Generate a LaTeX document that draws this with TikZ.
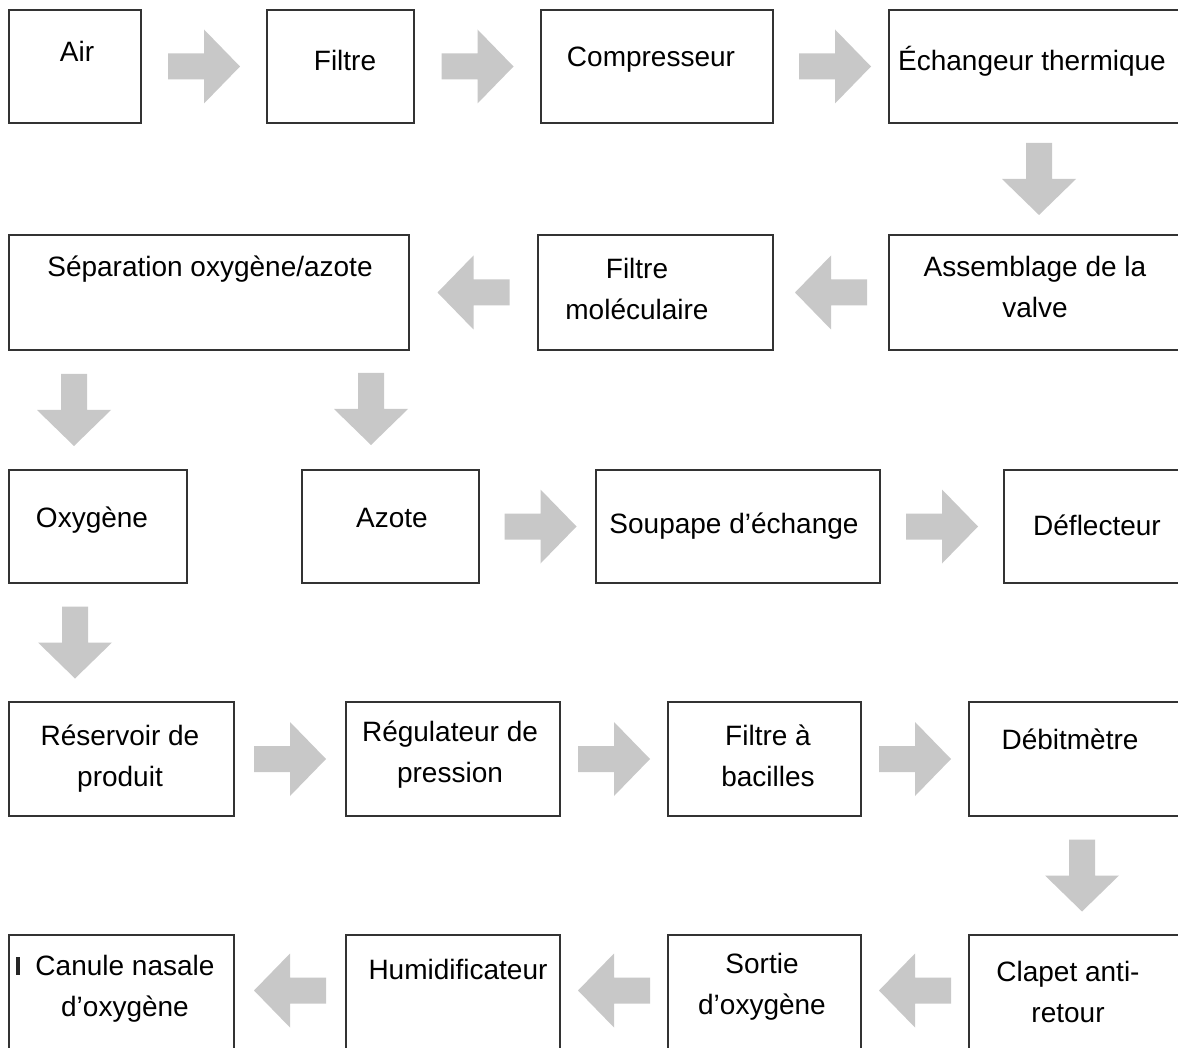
\documentclass[tikz,border=0pt]{standalone}
\usepackage{fontspec}
\setmainfont{Liberation Sans}
\usetikzlibrary{fit,calc}
\definecolor{boxline}{HTML}{333333}
\definecolor{arrowgray}{HTML}{C8C8C8}
\tikzset{
  stepbox/.style={draw=boxline, line width=1.5pt, inner sep=0pt, fill=white},
  lbl/.style={font=\fontsize{21}{30.75}\selectfont, align=center, anchor=base, inner sep=0pt},
  blk/.style={fill=arrowgray}
}
\newcommand\blkarrow[2]{\fill[blk, shift={#2}, rotate=#1] (-36,-13) -- (0,-13) -- (0,-37) -- (36,0) -- (0,37) -- (0,13) -- (-36,13) -- cycle;}
\begin{document}
\begin{tikzpicture}[x=0.75pt,y=-0.75pt]
  \useasboundingbox (0,0) rectangle (1178,1048);
  \fill[white] (0,0) rectangle (1178,1048);
  % row 1
  \node[stepbox, fit={(9,10) (141,123)}] (air) {};
  \node[stepbox, fit={(267,10) (414,123)}] (fil) {};
  \node[stepbox, fit={(541,10) (773,123)}] (com) {};
  \node[stepbox, fit={(889,10) (1195,123)}] (ech) {};
  % row 2
  \node[stepbox, fit={(9,235) (409,350)}] (sep) {};
  \node[stepbox, fit={(538,235) (773,350)}] (fmo) {};
  \node[stepbox, fit={(889,235) (1195,350)}] (asm) {};
  % row 3
  \node[stepbox, fit={(9,470) (187,583)}] (oxy) {};
  \node[stepbox, fit={(302,470) (479,583)}] (azo) {};
  \node[stepbox, fit={(596,470) (880,583)}] (sou) {};
  \node[stepbox, fit={(1004,470) (1195,583)}] (def) {};
  % row 4
  \node[stepbox, fit={(9,702) (234,816)}] (res) {};
  \node[stepbox, fit={(346,702) (560,816)}] (reg) {};
  \node[stepbox, fit={(668,702) (861,816)}] (fab) {};
  \node[stepbox, fit={(969,702) (1197,816)}] (deb) {};
  % row 5
  \node[stepbox, fit={(9,935) (234,1052)}] (can) {};
  \node[stepbox, fit={(346,935) (560,1052)}] (hum) {};
  \node[stepbox, fit={(668,935) (861,1052)}] (sor) {};
  \node[stepbox, fit={(969,935) (1197,1052)}] (cla) {};
  % labels (anchor = baseline of the last line)
  \node[lbl] (tair) at (77,62) {Air};
  \node[lbl] (tfil) at (345,71) {Filtre};
  \node[lbl] (tcom) at (651,67) {Compresseur};
  \node[lbl] (tech) at (1032,71) {Échangeur thermique};
  \node[lbl] (tsep) at (210,277) {Séparation oxygène/azote};
  \node[lbl] (tfmo) at (637,320) {Filtre\\moléculaire};
  \node[lbl] (tasm) at (1035,318) {Assemblage de la\\valve};
  \node[lbl] (toxy) at (92,527) {Oxygène};
  \node[lbl] (tazo) at (392,527) {Azote};
  \node[lbl] (tsou) at (734,533) {Soupape d’échange};
  \node[lbl] (tdef) at (1097,535) {Déflecteur};
  \node[lbl] (tres) at (120,786) {Réservoir de\\produit};
  \node[lbl] (treg) at (450,782) {Régulateur de\\pression};
  \node[lbl] (tfab) at (768,786) {Filtre à\\bacilles};
  \node[lbl] (tdeb) at (1070,749) {Débitmètre};
  \node[lbl] (tcan) at (125,1016) {Canule nasale\\d’oxygène};
  \node[lbl] (thum) at (458,979) {Humidificateur};
  \node[lbl] (tsor) at (762,1014) {Sortie\\d’oxygène};
  \node[lbl] (tcla) at (1068,1022) {Clapet anti-\\retour};
  \fill[black!85] (16,957) rectangle (20,975);
  % arrows row 1
  \blkarrow{0}{($(air.east)!0.5!(fil.west)$)}
  \blkarrow{0}{($(fil.east)!0.5!(com.west)$)}
  \blkarrow{0}{($(com.east)!0.5!(ech.west)+(4,0)$)}
  \blkarrow{-90}{($(ech.south west)!0.5!(asm.north west)+(151,0)$)}
  % row 2
  \blkarrow{180}{($(asm.west)!0.5!(fmo.east)$)}
  \blkarrow{180}{($(fmo.west)!0.5!(sep.east)$)}
  \blkarrow{-90}{($(sep.south west)!0.5!(oxy.north west)+(66,0)$)}
  \blkarrow{-90}{($(azo.north west)+(70,-60)$)}
  % row 3
  \blkarrow{0}{($(azo.east)!0.5!(sou.west)+(3,0)$)}
  \blkarrow{0}{($(sou.east)!0.5!(def.west)$)}
  \blkarrow{-90}{($(oxy.south west)!0.5!(res.north west)+(67,0)$)}
  % row 4
  \blkarrow{0}{($(res.east)!0.5!(reg.west)$)}
  \blkarrow{0}{($(reg.east)!0.5!(fab.west)$)}
  \blkarrow{0}{($(fab.east)!0.5!(deb.west)$)}
  \blkarrow{-90}{($(deb.south west)!0.5!(cla.north west)+(114,0)$)}
  % row 5
  \blkarrow{180}{($(cla.west)!0.5!(sor.east)+(0,-3)$)}
  \blkarrow{180}{($(sor.west)!0.5!(hum.east)+(0,-3)$)}
  \blkarrow{180}{($(hum.west)!0.5!(can.east)+(0,-3)$)}
\end{tikzpicture}
\end{document}
